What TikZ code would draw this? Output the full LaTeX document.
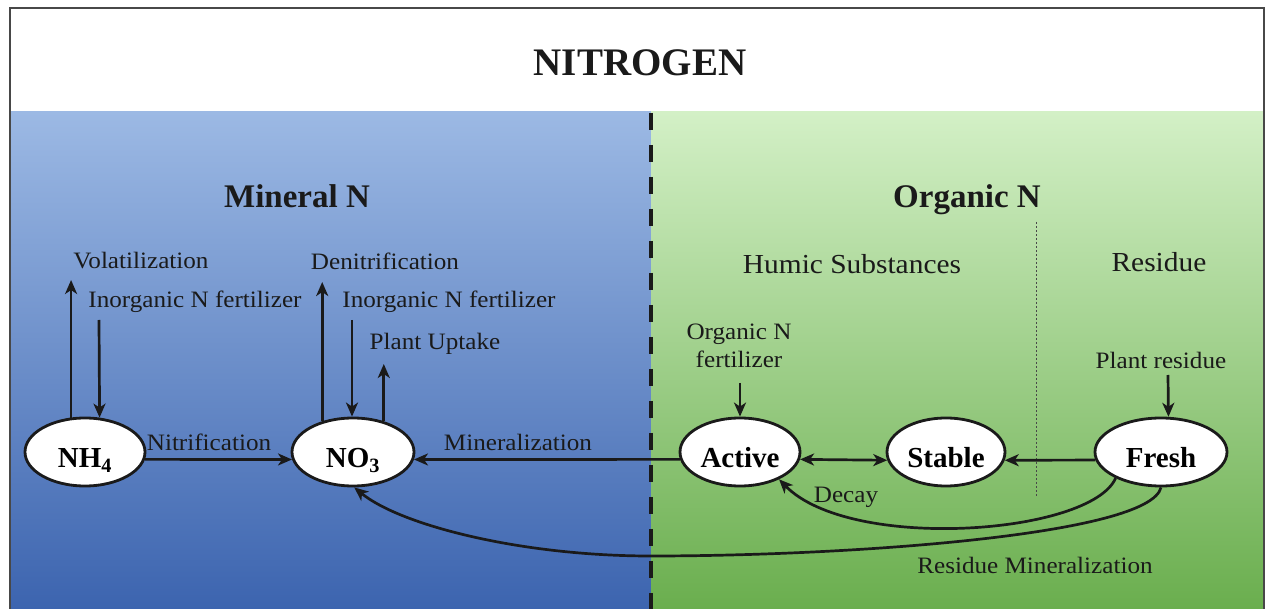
\documentclass[tikz,border=0pt]{standalone}
\usepackage{fontspec}
\setmainfont{Liberation Serif}
\newfontfamily\widefont{Liberation Serif}[FakeStretch=1.07]
\usetikzlibrary{shapes.geometric,arrows.meta}
\definecolor{bluetop}{HTML}{9CB9E4}
\definecolor{bluemid}{HTML}{5A82C6}
\definecolor{bluebot}{HTML}{3C64AF}
\definecolor{greentop}{HTML}{D3F0C6}
\definecolor{greenmid}{HTML}{92CA78}
\definecolor{greenbot}{HTML}{6AAE4E}
\definecolor{ink}{HTML}{1A1A1A}
\begin{document}
\begin{tikzpicture}[x=1pt,y=-1pt,
  ell/.style={ellipse, draw=ink, line width=2.8pt, fill=white, inner sep=0pt,
    minimum width=#1, minimum height=68pt, text height=31pt, text depth=0pt,
    font=\bfseries\fontsize{29}{30}\selectfont},
  small/.style={inner sep=0pt, text=ink, font=\widefont\fontsize{23.5}{28}\selectfont},
  sub/.style={inner sep=0pt, text=ink, font=\widefont\fontsize{27.5}{30}\selectfont},
  head/.style={inner sep=0pt, anchor=base, text=ink, font=\bfseries\fontsize{33}{36}\selectfont},
  tip/.style={-{Stealth[length=14pt,width=12pt,inset=4pt]}},
  arr/.style={draw=ink, line width=2.7pt, tip},
  darr/.style={draw=ink, line width=2.7pt, {Stealth[length=14pt,width=12pt,inset=4pt]}-{Stealth[length=14pt,width=12pt,inset=4pt]}},
  curv/.style={draw=ink, line width=2.7pt, tip}
]
\useasboundingbox (0,0) rectangle (1270,609);
% backgrounds
\fill[white] (0,0) rectangle (1270,609);
\shade[top color=bluetop, middle color=bluemid, bottom color=bluebot] (10,112) rectangle (651,609);
\shade[top color=greentop, middle color=greenmid, bottom color=greenbot] (651,112) rectangle (1264,609);
% frame
\draw[draw=ink!80, line width=2pt] (10,609) -- (10,8) -- (1264,8) -- (1264,609);
% dashed divider
\draw[ink, line width=4.5pt, dash pattern=on 17pt off 15pt] (651,113) -- (651,609);
% dotted divider
\draw[ink!80, line width=1pt, dash pattern=on 2.5pt off 1.5pt] (1036,222) -- (1036,498);

% title and headings
\node[inner sep=0pt, text=ink, font=\bfseries\fontsize{39}{40}\selectfont] (title) at (640,63) {NITROGEN};
\node[head] (mineral) at (297,208) {Mineral N};
\node[head] (organic) at (967,208) {Organic N};
\node[sub] (humic) at (852,264) {Humic Substances};
\node[sub] (residue) at (1159,262) {Residue};

% pools
\node[ell=120pt] (nh4) at (85,452) {NH\textsubscript{4}};
\node[ell=122pt] (no3) at (353,452) {NO\textsubscript{3}};
\node[ell=120pt] (active) at (740,452) {Active};
\node[ell=118pt] (stable) at (946,452) {Stable};
\node[ell=132pt] (fresh) at (1161,452) {Fresh};

% labels
\node[small] (vol) at (141,261) {Volatilization};
\node[small] (denit) at (385,261) {Denitrification};
\node[small] (inf1) at (195,302) {Inorganic N fertilizer};
\node[small] (inf2) at (449,302) {Inorganic N fertilizer};
\node[small] (uptake) at (435,344) {Plant Uptake};
\node[small, align=center] (orgfert) at (739,346) {Organic N\\fertilizer};
\node[small] (plantres) at (1161,360) {Plant residue};
\node[small] (nitri) at (209,442) {Nitrification};
\node[small] (miner) at (518,442) {Mineralization};
\node[small] (decay) at (846,497) {Decay};
\node[small] (resmin) at (1035,565) {Residue Mineralization};

% endpoints of vertical arrows
\coordinate (volend) at (71,280);
\coordinate (inf1start) at (99,320);
\coordinate (denitend) at (323,282);
\coordinate (inf2start) at (352,320);
\coordinate (uptakeend) at (382,364);
\coordinate (orgstart) at (740,383);
\coordinate (resstart) at (1168,375);

\draw[arr] (nh4.112.9) -- (nh4.112.9 |- volend);
\draw[arr] (inf1start) -- (nh4.67.1);
\draw[arr] (no3.135.4) -- (no3.135.4 |- denitend);
\draw[arr] (inf2start) -- (inf2start |- no3.north);
\draw[arr] (no3.45.9) -- (no3.45.9 |- uptakeend);
\draw[arr] (orgstart) -- (active.north);
\draw[arr] (resstart) -- (fresh.78.3);

% horizontal flows
\draw[arr] (nh4.-7.8) -- (no3.187.7);
\draw[arr] (active.187.8) -- (no3.-7.7);
\draw[darr] (active.-7.8) -- (stable.188);
\draw[arr] (fresh.187.1) -- (stable.-8);

% curved flows
\draw[curv] (fresh.-150) .. controls (1090,535) and (850,552) .. (active.-35);
\coordinate (rmid) at (651,556);
\draw[curv] (fresh.south) .. controls (1150,535) and (850,556) .. (rmid)
  .. controls (520,556) and (400,525) .. (no3.-88);
\end{tikzpicture}
\end{document}
